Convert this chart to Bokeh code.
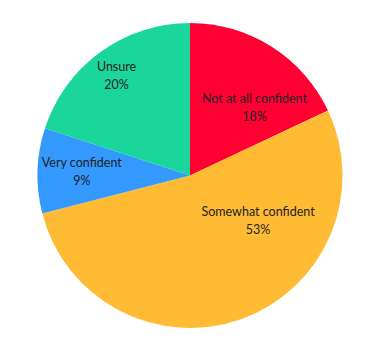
import numpy as np
from bokeh.plotting import figure
from bokeh.models import Range1d, ColumnDataSource
from bokeh.core.properties import value
from bokeh.embed import file_html
from bokeh.resources import INLINE

categories = ["Not at all confident", "Somewhat confident", "Very confident", "Unsure"]
percents = [18, 53, 9, 20]
colors = ["#FF0033", "#FFBB33", "#3399FF", "#1AD69B"]

# label placement (fraction of radius, angle in degrees clockwise from top)
label_r = [0.614, 0.535, 0.709, 0.814]
label_ang = [43.5, 123.5, 272.1, 323.7]

W, H = 377, 350
cx, cy, R = 189.5, 175.0, 152.5

frac = np.array(percents) / sum(percents)
cum = np.concatenate([[0], np.cumsum(frac)])
start = np.pi / 2 - 2 * np.pi * cum[:-1]
end = np.pi / 2 - 2 * np.pi * cum[1:]

src = ColumnDataSource(dict(start=start, end=end, color=colors))

p = figure(width=W, height=H, output_backend="svg", toolbar_location=None,
           x_range=Range1d(0, W), y_range=Range1d(0, H), min_border=0)
p.axis.visible = False
p.grid.visible = False
p.outline_line_color = None
p.background_fill_color = "white"

p.wedge(x=cx, y=cy, radius=R, start_angle="start", end_angle="end",
        direction="clock", fill_color="color", line_color=None, source=src)

la = np.deg2rad(label_ang)
lx = cx + np.array(label_r) * R * np.sin(la)
ly = cy + np.array(label_r) * R * np.cos(la)
texts = [f"{c}\n{v}%" for c, v in zip(categories, percents)]
p.text(x=lx, y=ly, text=texts, text_align="center", text_baseline="middle",
       text_font=value("Lato"), text_font_size="12.5px", text_color="#222222",
       text_line_height=1.2)

open("out.html", "w").write(file_html(p, INLINE))
